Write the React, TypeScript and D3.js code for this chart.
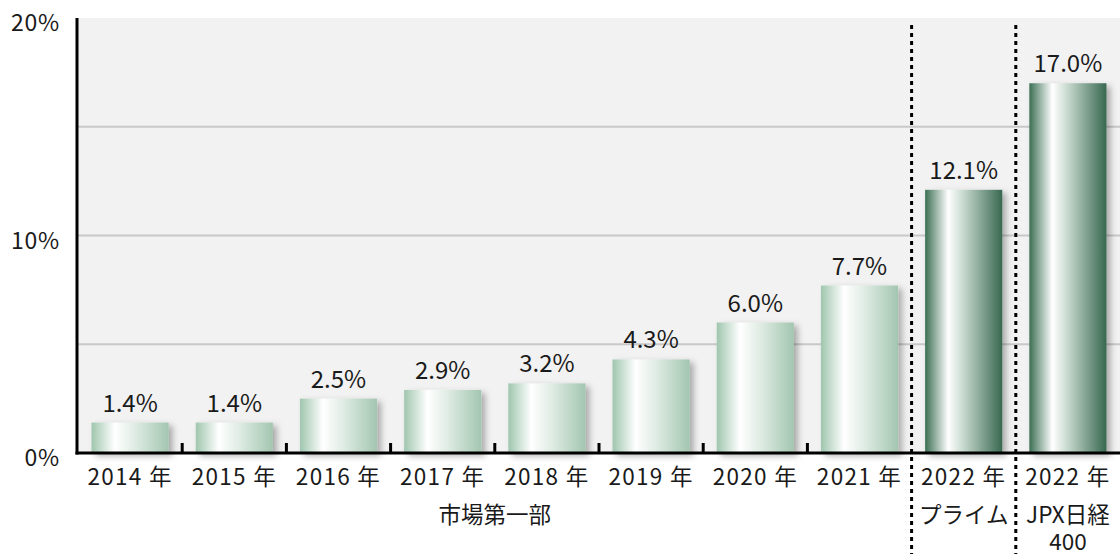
import React from "react";
import * as d3 from "d3";

const categories = ["2014", "2015", "2016", "2017", "2018", "2019", "2020", "2021", "2022p", "2022j"];
const yearLabels = ["2014 年", "2015 年", "2016 年", "2017 年", "2018 年", "2019 年", "2020 年", "2021 年", "2022 年", "2022 年"];
const values = [1.4, 1.4, 2.5, 2.9, 3.2, 4.3, 6.0, 7.7, 12.1, 17.0];
const valueLabels = ["1.4%", "1.4%", "2.5%", "2.9%", "3.2%", "4.3%", "6.0%", "7.7%", "12.1%", "17.0%"];
const darkBars = ["2022p", "2022j"];
const yTicks = [0, 10, 20];
const gridTicks = [5, 10, 15];
// group labels below the years: [first category, last category, lines]
const groups: [string, string, string[]][] = [
  ["2014", "2021", ["市場第一部"]],
  ["2022p", "2022p", ["プライム"]],
  ["2022j", "2022j", ["JPX日経", "400"]],
];
const dividers = ["2022p", "2022j"];

const W = 1120;
const H = 554;
const margin = { top: 18, right: 0, bottom: 101, left: 78 };
const font = "'Noto Sans CJK JP', 'Noto Sans', sans-serif";

export default function App() {
  const x = d3
    .scaleBand<string>()
    .domain(categories)
    .range([margin.left, W - margin.right])
    .padding(0);
  const y = d3
    .scaleLinear()
    .domain([0, 20])
    .range([H - margin.bottom, margin.top]);

  const bw = x.bandwidth();
  const barW = bw * 0.74;
  const y0 = y(0);

  return (
    <div style={{ position: "absolute", left: 0, top: 0 }}>
      <svg width={W} height={H} style={{ display: "block", fontFamily: font }}>
        <defs>
          <linearGradient id="gLight" x1="0" x2="1" y1="0" y2="0">
            <stop offset="0" stopColor="#9fc6ae" />
            <stop offset="0.3" stopColor="#ffffff" />
            <stop offset="0.55" stopColor="#e1ede5" />
            <stop offset="1" stopColor="#a3c6b0" />
          </linearGradient>
          <linearGradient id="gDark" x1="0" x2="1" y1="0" y2="0">
            <stop offset="0" stopColor="#3b6f53" />
            <stop offset="0.3" stopColor="#ffffff" />
            <stop offset="0.5" stopColor="#c6d8cd" />
            <stop offset="1" stopColor="#386850" />
          </linearGradient>
          <filter id="shadow" x="-20%" y="-20%" width="150%" height="150%">
            <feDropShadow dx="4" dy="3" stdDeviation="3" floodColor="#000" floodOpacity="0.3" />
          </filter>
        </defs>

        <rect
          x={margin.left}
          y={margin.top}
          width={W - margin.left - margin.right}
          height={y0 - margin.top}
          fill="#f2f2f2"
        />

        {gridTicks.map((t) => (
          <line key={t} x1={margin.left} x2={W} y1={y(t)} y2={y(t)} stroke="#c8c8c8" strokeWidth={2} />
        ))}

        {categories.map((c, i) => {
          const bx = (x(c) as number) + (bw - barW) / 2;
          return (
            <g key={c}>
              <rect
                x={bx}
                y={y(values[i])}
                width={barW}
                height={y0 - y(values[i])}
                fill={darkBars.includes(c) ? "url(#gDark)" : "url(#gLight)"}
                filter="url(#shadow)"
              />
              <text
                x={bx + barW / 2}
                y={y(values[i]) - 11}
                textAnchor="middle"
                fontSize={24}
                fill="#1a1a1a"
              >
                {valueLabels[i]}
              </text>
              <text
                x={bx + barW / 2}
                y={y0 + 32}
                textAnchor="middle"
                fontSize={22.5}
                letterSpacing={1.3}
                fill="#1a1a1a"
              >
                {yearLabels[i]}
              </text>
            </g>
          );
        })}

        {categories.slice(1).map((c) =>
          dividers.includes(c) ? null : (
            <line key={c} x1={x(c)} x2={x(c)} y1={y0 - 10} y2={y0} stroke="#000" strokeWidth={3} />
          )
        )}

        {dividers.map((c) => (
          <line
            key={c}
            x1={x(c)}
            x2={x(c)}
            y1={25}
            y2={H}
            stroke="#000"
            strokeWidth={3}
            strokeDasharray="4 4"
          />
        ))}

        <line x1={margin.left - 1} x2={margin.left - 1} y1={margin.top} y2={y0 + 1.5} stroke="#000" strokeWidth={3} />
        <line x1={margin.left - 2.5} x2={W} y1={y0} y2={y0} stroke="#000" strokeWidth={3} />

        {yTicks.map((t) => (
          <text
            key={t}
            x={60}
            y={y(t) + 7}
            textAnchor="end"
            dominantBaseline="middle"
            fontSize={23}
            letterSpacing={0.8}
            fill="#1a1a1a"
          >
            {t}%
          </text>
        ))}

        {groups.map(([a, b, lines]) => {
          const cx = ((x(a) as number) + (x(b) as number) + bw) / 2;
          return lines.map((l, j) => (
            <text key={a + j} x={cx} y={y0 + 70 + j * 27} textAnchor="middle" fontSize={22.5} fill="#1a1a1a">
              {l}
            </text>
          ));
        })}
      </svg>
    </div>
  );
}
